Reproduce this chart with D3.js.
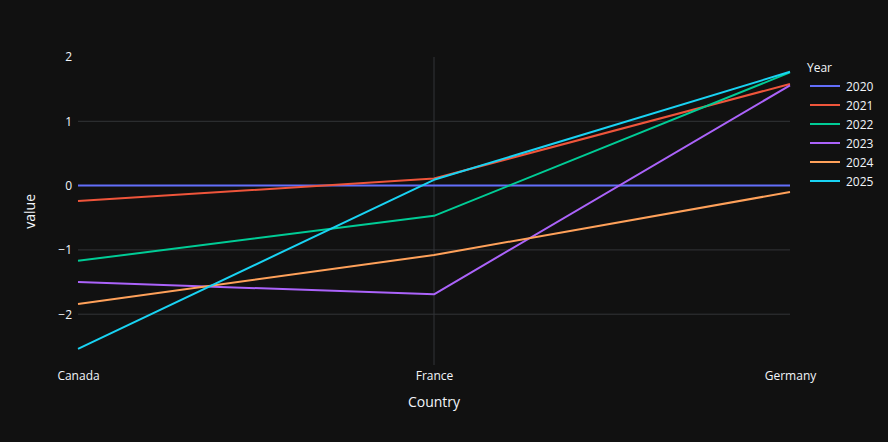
<!DOCTYPE html>
<meta charset="utf-8">
<style>
body { margin: 0; background: rgb(17,17,17); }
text { font-family: "Open Sans", sans-serif; fill: #f2f5fa; }
.grid line { stroke: #333538; stroke-width: 1; }
</style>
<body>
<script src="https://d3js.org/d3.v7.min.js"></script>
<script>
// data
var countries = ["Canada", "France", "Germany"];
var years = ["2020", "2021", "2022", "2023", "2024", "2025"];
var values = [
  [0, 0, 0],
  [-0.24, 0.11, 1.58],
  [-1.17, -0.47, 1.76],
  [-1.50, -1.69, 1.56],
  [-1.84, -1.08, -0.10],
  [-2.54, 0.09, 1.77]
];
var yTicks = [-2, -1, 0, 1, 2];
var colors = ["#636efa", "#EF553B", "#00cc96", "#ab63fa", "#FFA15A", "#19d3f3"];

var W = 888, H = 442;
var margin = {top: 57, right: 98, bottom: 77, left: 78},
    width = W - margin.left - margin.right,
    height = H - margin.top - margin.bottom;

var x = d3.scalePoint().domain(countries).range([0, width]);
var y = d3.scaleLinear().domain([-2.79, 2.0]).range([height, 0]);

var svg = d3.select("body").append("svg")
    .attr("width", W)
    .attr("height", H);
svg.append("rect").attr("width", W).attr("height", H).attr("fill", "rgb(17,17,17)");

var g = svg.append("g")
    .attr("transform", "translate(" + margin.left + "," + margin.top + ")");

// grid (plotly leaves out lines on the plot edges)
var grid = g.append("g").attr("class", "grid");
grid.selectAll(".gx").data(countries.slice(1, -1)).enter().append("line")
    .attr("x1", function(d) { return x(d); }).attr("x2", function(d) { return x(d); })
    .attr("y1", 0).attr("y2", height);
grid.selectAll(".gy").data(yTicks.filter(function(d) { return d < 2; })).enter().append("line")
    .attr("x1", 0).attr("x2", width)
    .attr("y1", function(d) { return y(d); }).attr("y2", function(d) { return y(d); });

// axes (text only)
var fmt = function(d) { return d < 0 ? "\u2212" + Math.abs(d) : String(d); };
var yAxis = g.append("g").call(d3.axisLeft(y).tickValues(yTicks).tickFormat(fmt).tickSize(0).tickPadding(6));
yAxis.select(".domain").remove();
yAxis.selectAll("text").style("font-size", "12px").attr("fill", "#f2f5fa").style("font-family", "'Open Sans', sans-serif");

var xAxis = g.append("g").attr("transform", "translate(0," + height + ")")
    .call(d3.axisBottom(x).tickSize(0).tickPadding(6));
xAxis.select(".domain").remove();
xAxis.selectAll("text").style("font-size", "12px").attr("fill", "#f2f5fa").style("font-family", "'Open Sans', sans-serif");

// lines
var line = d3.line()
    .x(function(d, i) { return x(countries[i]); })
    .y(function(d) { return y(d); });

g.append("g").selectAll("path").data(values).enter().append("path")
    .attr("d", line)
    .attr("fill", "none")
    .attr("stroke", function(d, i) { return colors[i]; })
    .attr("stroke-width", 2)
    .attr("stroke-linejoin", "round");

// axis titles
svg.append("text").attr("x", margin.left + width / 2).attr("y", 407)
    .attr("text-anchor", "middle").style("font-size", "14px").text("Country");
svg.append("text").attr("transform", "translate(35," + (margin.top + y(-0.4)) + ") rotate(-90)")
    .attr("text-anchor", "middle").style("font-size", "14px").text("value");

// legend
var leg = svg.append("g").attr("transform", "translate(807,0)");
leg.append("text").attr("x", 0).attr("y", 72).style("font-size", "12px").text("Year");
var items = leg.selectAll(".item").data(years).enter().append("g")
    .attr("transform", function(d, i) { return "translate(0," + (86 + i * 19) + ")"; });
items.append("line").attr("x1", 3).attr("x2", 33).attr("y1", 0).attr("y2", 0)
    .attr("stroke", function(d, i) { return colors[i]; }).attr("stroke-width", 2);
items.append("text").attr("x", 39).attr("y", 4.5).style("font-size", "12px").text(function(d) { return d; });
</script>
</body>
